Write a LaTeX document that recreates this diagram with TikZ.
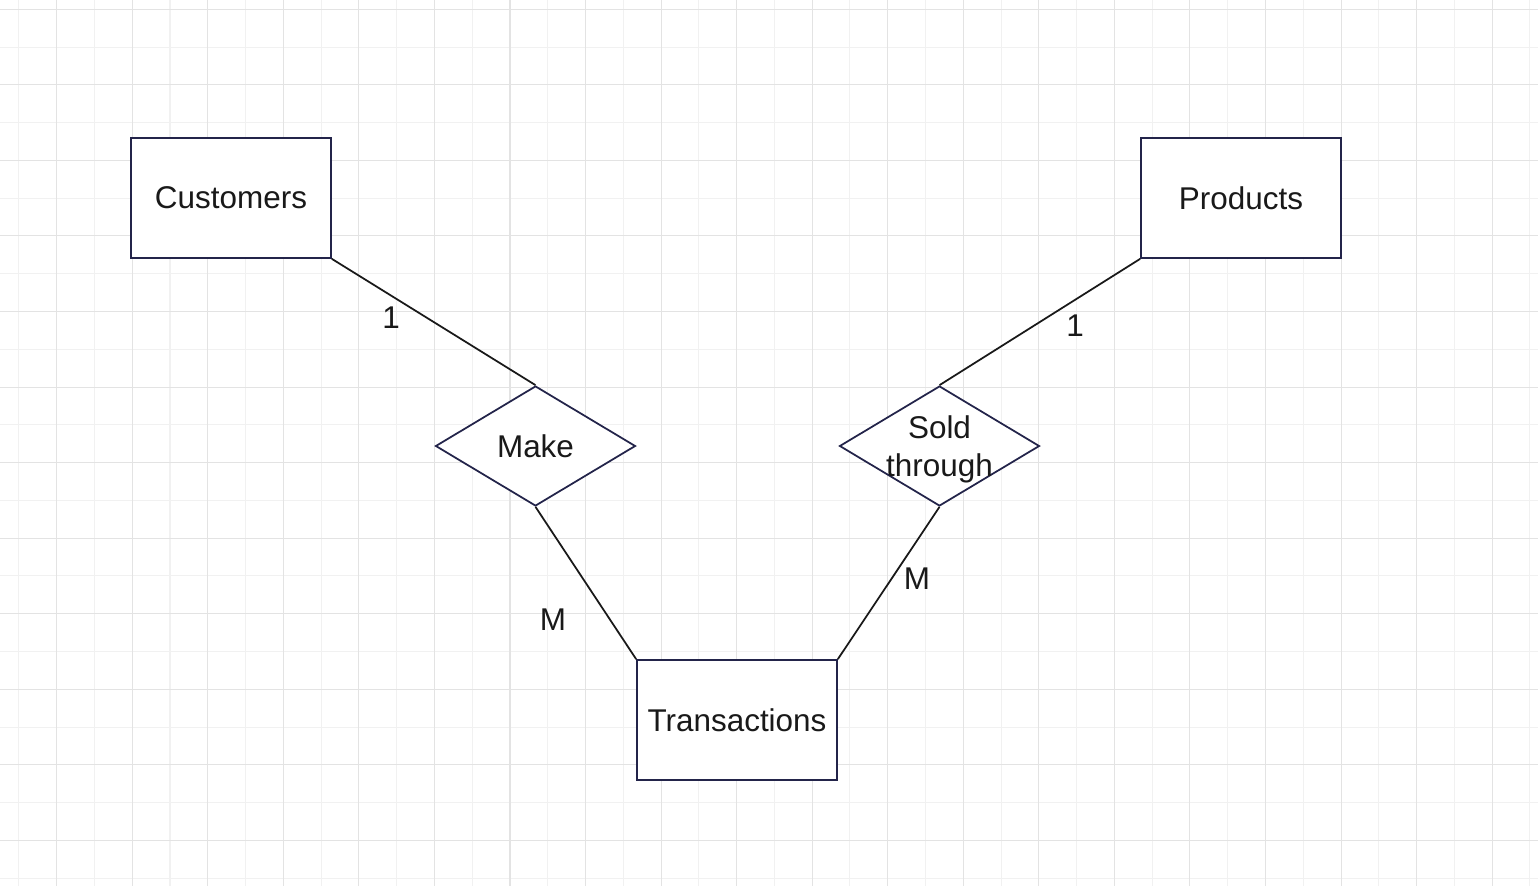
\documentclass[tikz,border=0pt]{standalone}
\usepackage{fontspec}
\setmainfont{Liberation Sans}
\usepackage{tikz}
\usetikzlibrary{positioning, shapes.geometric}
\usepackage{xcolor}

\definecolor{boxline}{HTML}{23244A}
\definecolor{minorgrid}{HTML}{F1F1F1}
\definecolor{majorgrid}{HTML}{E3E3E3}

\tikzset{
	entity/.style={draw=boxline, line width=1pt, fill=white, minimum width=4cm, minimum height=2.4cm, inner sep=0pt},
	rel/.style={draw=boxline, line width=1pt, fill=white, shape=diamond, aspect=1.667, minimum width=4cm, minimum height=2.4cm, inner sep=0pt},
	link/.style={draw=black!90, line width=1pt},
	card/.style={inner sep=0pt}
}

\begin{document}
\begin{tikzpicture}[x=0.02cm, y=-0.02cm, font=\fontsize{17.9}{21.5}\selectfont, text=black!90]
						\useasboundingbox (0,0) rectangle (1538,886);
						% grid
						\foreach \k in {0,...,20}
							\draw[minorgrid, line width=0.6pt] ({18.9+75.55*\k},0) -- ({18.9+75.55*\k},886);
						\foreach \k in {0,...,11}
							\draw[minorgrid, line width=0.6pt] (0,{47.1+75.55*\k}) -- (1538,{47.1+75.55*\k});
						\foreach \k in {0,...,19}
							\draw[majorgrid, line width=0.6pt] ({56.7+75.55*\k},0) -- ({56.7+75.55*\k},886);
						\foreach \k in {0,...,11}
							\draw[majorgrid, line width=0.6pt] (0,{9.3+75.55*\k}) -- (1538,{9.3+75.55*\k});
						% entities and relations
						\node[entity] (cust) at (231,198) {Customers};
						\node[entity] (prod) at (1241,198) {Products};
						\node[entity] (trans) at (737,720) {Transactions};
						\node[rel] (make) at (535.5,446) {Make};
						\node[rel, label={[align=center, yshift=-0.06cm]center:Sold\\through}] (sold) at (939.5,446) {};
						\draw[link]
						(cust.south east) -- (make.north)
						(make.south) -- (trans.north west)
						(prod.south west) -- (sold.north)
						(sold.south) -- (trans.north east);
						% cardinalities
						\node[card] (c1) at (391,318) {1};
						\node[card] (c2) at (553,620) {M};
						\node[card] (c3) at (1075,326) {1};
						\node[card] (c4) at (917,579) {M};
					\end{tikzpicture}
\end{document}
